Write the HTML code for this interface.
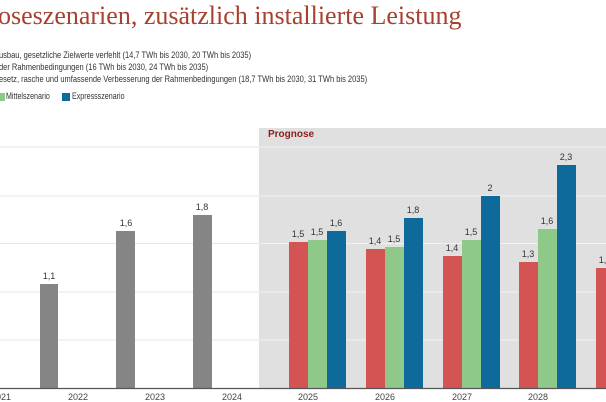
<!DOCTYPE html>
<html><head><meta charset="utf-8"><style>
body{margin:0;width:606px;height:402px;overflow:hidden;background:#fff;position:relative;font-family:"Liberation Sans",sans-serif}
.a{position:absolute;white-space:nowrap}
.t{font-family:"Liberation Serif",serif;font-size:26px;color:#a8402f;left:-2px;top:1px}
.s{font-size:9.5px;color:#333;left:-1px;transform:scaleX(0.79);transform-origin:left}
.b{position:absolute}
.v{position:absolute;font-size:9px;color:#333;width:30px;text-align:center}
.x{position:absolute;font-size:9px;color:#444;width:30px;text-align:center;top:392px}
</style></head><body>
<div class="a t">oseszenarien, zusätzlich installierte Leistung</div>
<div class="a s" style="top:50px">usbau, gesetzliche Zielwerte verfehlt (14,7 TWh bis 2030, 20 TWh bis 2035)</div>
<div class="a s" style="top:62px">der Rahmenbedingungen (16 TWh bis 2030, 24 TWh bis 2035)</div>
<div class="a s" style="top:74px">esetz, rasche und umfassende Verbesserung der Rahmenbedingungen (18,7 TWh bis 2030, 31 TWh bis 2035)</div>
<div class="b" style="left:0;top:93px;width:5px;height:8px;background:#8fc98a"></div>
<div class="a s" style="top:91px;left:6px;font-size:9px">Mittelszenario</div>
<div class="b" style="left:62px;top:93px;width:8px;height:8px;background:#0e6a9b"></div>
<div class="a s" style="top:91px;left:72px;font-size:9px">Expressszenario</div>
<div class="b" style="left:259px;top:128px;width:347px;height:260px;background:#e0e0e0"></div>
<div class="a" style="left:268px;top:129px;font-size:10px;font-weight:bold;color:#8c1c1c">Prognose</div>
<svg class="b" style="left:0;top:0" width="606" height="402">
<g stroke-width="1">
<line x1="0" x2="259" y1="147" y2="147" stroke="#e4e4e4"/><line x1="259" x2="606" y1="147" y2="147" stroke="#f2f2f2"/>
<line x1="0" x2="259" y1="196" y2="196" stroke="#e4e4e4"/><line x1="259" x2="606" y1="196" y2="196" stroke="#f2f2f2"/>
<line x1="0" x2="259" y1="243.5" y2="243.5" stroke="#e4e4e4"/><line x1="259" x2="606" y1="243.5" y2="243.5" stroke="#f2f2f2"/>
<line x1="0" x2="259" y1="292" y2="292" stroke="#e4e4e4"/><line x1="259" x2="606" y1="292" y2="292" stroke="#f2f2f2"/>
<line x1="0" x2="259" y1="340" y2="340" stroke="#e4e4e4"/><line x1="259" x2="606" y1="340" y2="340" stroke="#f2f2f2"/>
</g>
<g fill="#858585">
<rect x="40" y="284" width="18" height="104"/><rect x="116" y="231" width="19" height="157"/><rect x="193" y="215" width="19" height="173"/>
</g>
<g fill="#d35452">
<rect x="289" y="242" width="19" height="146"/><rect x="366" y="249" width="19" height="139"/><rect x="443" y="256" width="19" height="132"/><rect x="519" y="262" width="19" height="126"/><rect x="596" y="268" width="19" height="120"/>
</g>
<g fill="#8fc98a">
<rect x="308" y="240" width="19" height="148"/><rect x="385" y="247" width="19" height="141"/><rect x="462" y="240" width="19" height="148"/><rect x="538" y="229" width="19" height="159"/>
</g>
<g fill="#0e6a9b">
<rect x="327" y="231" width="19" height="157"/><rect x="404" y="218" width="19" height="170"/><rect x="481" y="196" width="19" height="192"/><rect x="557" y="165" width="19" height="223"/>
</g>
<line x1="0" x2="606" y1="388.5" y2="388.5" stroke="#555" stroke-width="1.2"/>
</svg>
<div class="v" style="left:34px;top:271px">1,1</div>
<div class="v" style="left:111px;top:218px">1,6</div>
<div class="v" style="left:187px;top:202px">1,8</div>
<div class="v" style="left:283px;top:229px">1,5</div>
<div class="v" style="left:302px;top:227px">1,5</div>
<div class="v" style="left:321px;top:218px">1,6</div>
<div class="v" style="left:360px;top:236px">1,4</div>
<div class="v" style="left:379px;top:234px">1,5</div>
<div class="v" style="left:398px;top:205px">1,8</div>
<div class="v" style="left:437px;top:243px">1,4</div>
<div class="v" style="left:456px;top:227px">1,5</div>
<div class="v" style="left:475px;top:183px">2</div>
<div class="v" style="left:513px;top:249px">1,3</div>
<div class="v" style="left:532px;top:216px">1,6</div>
<div class="v" style="left:551px;top:152px">2,3</div>
<div class="v" style="left:590px;top:255px">1,3</div>
<div class="x" style="left:-14px">2021</div>
<div class="x" style="left:63px">2022</div>
<div class="x" style="left:140px">2023</div>
<div class="x" style="left:217px">2024</div>
<div class="x" style="left:293px">2025</div>
<div class="x" style="left:370px">2026</div>
<div class="x" style="left:447px">2027</div>
<div class="x" style="left:523px">2028</div>
</body></html>
